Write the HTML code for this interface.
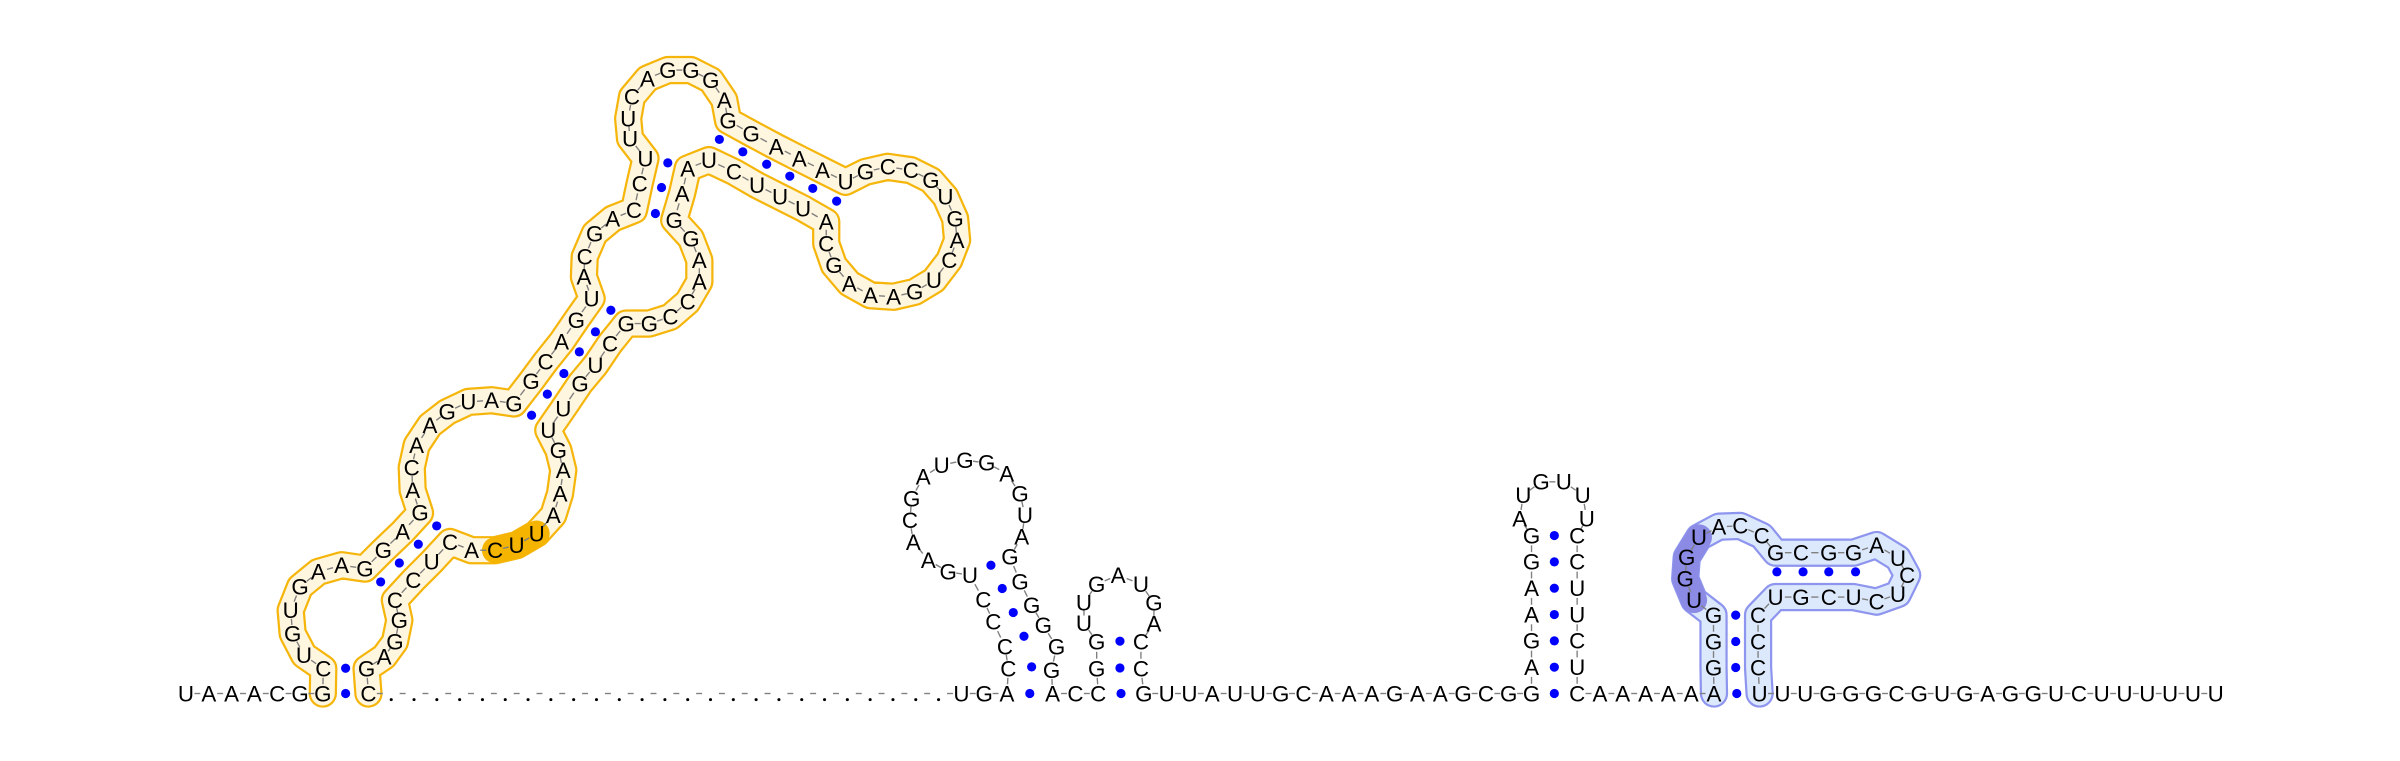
<!DOCTYPE html>
<html><head><meta charset="utf-8">
<style>
html,body{margin:0;padding:0;background:#fff;}
svg{display:block;}
text{font-family:"Liberation Sans","DejaVu Sans",sans-serif;font-size:14.6px;fill:#000;text-anchor:middle;}
</style></head>
<body>
<svg id="rna" xmlns="http://www.w3.org/2000/svg" width="2400" height="761" viewBox="0 0 1568 497">
<g id="tubes"></g>
<g id="links"></g>
<g id="pairs"></g>
<g id="letters"></g>
</svg>
<script>
// ---- sequence data ----
const baselineSeq = "UAAACGG*C" + ".".repeat(25) + "UGA*ACC*G" + "UUAUUGCAAAGAAGCGG" + "*C" + "AAAAA" + "A*U" + "UUGGGCGUGAGGUCUUUUUU";
const orangeSeq = "CUGUGAAGGAGACAAGUAGGCAGUACGACCUUUCAGGGAGGAAAUGCCGUGACUGAAAGCAUUUCUAAGGAACCGGCUGUUGAAAUUCACUCCGGAG";
const stem2Seq = "CCCCUGAACGAUGGAGUAGGGGGG";
const stem2bSeq = "GGUUGAUGACC";
const stem3Seq = "AGAAGGAUGUUUCCUUCU";
const blueSeq = "GGGUGGUACCGCGGAUCUCUCGUCCC";

// ---- layout (display units) ----
const BX0 = 121.5, BDX = 14.9, BY = 453;
const bx = i => BX0 + BDX * i;
const orangeXY = [[211.2,436.7],[198.6,428],[191.2,413.8],[189.9,398.6],[196,383.3],[208,373.5],[223.2,369.2],[238.4,371.4],[250.4,359.4],[263,347.4],[274.4,335],[269.6,320.2],[269,305.4],[272.2,290.8],[280.9,277.7],[292.2,269],[306,262.5],[321.2,261.4],[335.8,263.5],[347,249],[356.4,236.3],[366.9,223.2],[376.5,209.1],[386.5,194.9],[381.5,180.8],[382,167.7],[388.5,152.5],[400.3,142.7],[414.2,137.2],[417.9,119.8],[421.7,103.5],[411.6,90.4],[410.4,77.3],[412.9,63.2],[423,51.2],[436.3,45.7],[451.4,45.7],[464.4,52.3],[473.2,65.3],[475.7,78.8],[490.8,87.1],[507.1,95.8],[522.2,103.5],[537.3,111.1],[552.4,118.7],[565.4,112.2],[580,108.9],[595.1,111.1],[608.2,117.6],[617.7,128.5],[624,142.7],[625.3,156.8],[620.2,169.9],[610.2,183],[597.6,190.6],[583.8,193.8],[568.7,192.8],[554.9,185.1],[544.8,173.2],[539.8,159],[539.8,144.8],[524.7,136.1],[509.6,128.5],[494.6,120.9],[479.5,112.2],[463.2,104.5],[449.3,110],[445.6,126.3],[440.5,143.7],[451.4,155.7],[456.9,169.9],[456.9,184],[449.3,197.1],[438,206.9],[424.2,211.3],[409.1,211.3],[398.6,224.3],[389,238.5],[379,250.5],[368,266.8],[358.2,281],[364.8,294],[368,307.1],[365.9,322.4],[361.5,336.5],[350.6,348.5],[337.5,356.1],[323.4,359.4],[308.1,359.4],[294,354],[282,367],[270,379],[258,392],[260.9,405.1],[258,419.3],[250.9,429],[239.5,436.7]];
const orangeHL = [85,86,87];
const orangeDots = [[225.8,436.5],[248.7,380.1],[260.9,367.7],[273.3,355.5],[285.3,343.5],[347.3,271.2],[357.6,257.4],[368.4,243.9],[378.5,229.8],[389,216.7],[399.1,202.6],[428.2,139.4],[432.2,122.4],[436.3,106.3],[470,91],[485.3,99.1],[500.9,107.2],[516,115],[531,123],[546.6,131.3]];
const stem2XY = [[658.8,436.7],[656.6,422.5],[649,406.2],[642.4,391.6],[633.7,375.7],[619.5,373.5],[606.5,365.9],[596.7,354],[594.5,339.8],[595.6,325.6],[603.2,311.5],[615.2,303.8],[630.4,300.6],[644.6,302.3],[657.7,309.3],[666.4,322.3],[669.6,336.5],[667.5,350.7],[659.8,363.7],[666.4,380],[674,395.3],[681.6,408.4],[690.3,422.5],[687,437.8]];
const stem2Dots = [[674,435.6],[669,415.6],[662,400.1],[654.8,384.4],[647.4,369.2]];
const stem2bXY = [[716.5,436.7],[716.5,419.3],[708.2,406.9],[708.2,393.8],[716.5,381.6],[730.6,375.7],[745.4,381.6],[753.9,393.8],[753.9,407.3],[745.4,419.3],[745.4,436.7]];
const stem2bDots = [[731.7,436.3],[731.7,418.8]];
const s3L = bx(59), s3R = bx(61);
const stem3XY = [[s3L,435.8],[s3L,418.6],[s3L,401.4],[s3L,384.2],[s3L,367],[s3L,349.8],[992.9,338.7],[995.2,323.4],[1006.8,314.7],[1021.7,314.7],[1034,323.4],[1036.7,338.7],[s3R,349.8],[s3R,367],[s3R,384.2],[s3R,401.4],[s3R,418.6],[s3R,435.8]];
const stem3Dots = [435.8,418.6,401.4,384.2,367,349.8].map(y=>[bx(60),y]);
const blueXY = [[1119.5,436],[1119.5,419],[1119.5,401.8],[1106.8,392],[1101,378],[1102,364],[1110,351],[1123,344],[1137,343.5],[1151,350],[1160,361],[1176.6,361],[1194.8,361],[1211,361],[1226,356],[1240,364.6],[1246,375.7],[1240,388],[1226,393],[1211,390],[1194.8,390],[1176.6,390],[1160,390],[1148.6,401.8],[1148.6,419],[1148.6,436]];
const blueHL = [3,4,5,6];
const blueDots = [[1160.9,373.5],[1178,373.5],[1194.8,373.5],[1212.3,373.5],[1134,436],[1134,419],[1134,401.8]];

const NS = "http://www.w3.org/2000/svg";
const gT = document.getElementById('tubes'), gL = document.getElementById('links'), gP = document.getElementById('pairs'), gN = document.getElementById('letters');
function mk(tag, attrs, parent){const e=document.createElementNS(NS,tag);for(const k in attrs)e.setAttribute(k,attrs[k]);parent.appendChild(e);return e;}

const chain = [];
const baseDots = [];
function pushDomain(seq, xy){ for(let k=0;k<seq.length;k++) chain.push({c:seq[k],x:xy[k][0],y:xy[k][1]}); }
const domainStart = {};
for(let i=0;i<baselineSeq.length;i++){
  const c = baselineSeq[i];
  if(c==='*'){ baseDots.push([bx(i),BY]); continue; }
  chain.push({c:c,x:bx(i),y:BY,i:i});
  if(i===6){ domainStart.o=chain.length-1; pushDomain(orangeSeq, orangeXY); }
  if(i===8){ domainStart.oe=chain.length-1; }
  if(i===36) pushDomain(stem2Seq, stem2XY);
  if(i===40) pushDomain(stem2bSeq, stem2bXY);
  if(i===59) pushDomain(stem3Seq, stem3XY);
  if(i===67){ domainStart.b=chain.length-1; pushDomain(blueSeq, blueXY); }
  if(i===69){ domainStart.be=chain.length-1; }
}
function pathOf(a,b){let d='';for(let k=a;k<=b;k++)d+=(k===a?'M':'L')+chain[k].x.toFixed(1)+' '+chain[k].y.toFixed(1);return d;}
function tube(a,b,border,fill,name){
  const d=pathOf(a,b);
  const p1=mk('path',{d:d,fill:'none',stroke:border,'stroke-width':18.5,'stroke-linecap':'round','stroke-linejoin':'round'},gT);
  
  
  const p2=mk('path',{d:d,fill:'none',stroke:fill,'stroke-width':15.6,'stroke-linecap':'round','stroke-linejoin':'round'},gT);
  
  
}
tube(domainStart.o, domainStart.oe, '#f5b50a', '#fff6df', 'orange-domain');
tube(domainStart.b, domainStart.be, '#8e95ee', '#dce9fc', 'blue-domain');
function hl(base, idxs, color, name){
  const a=base+1+idxs[0], b=base+1+idxs[idxs.length-1];
  const p=mk('path',{d:pathOf(a,b),fill:'none',stroke:color,'stroke-width':17,'stroke-linecap':'round','stroke-linejoin':'round'},gT);
  
  
}
hl(domainStart.o, orangeHL, '#f5b400', 'orange-motif-highlight');
hl(domainStart.b, blueHL, '#8b8be6', 'blue-motif-highlight');

for(let k=0;k<chain.length-1;k++){
  const a=chain[k], b=chain[k+1];
  if(a.i!==undefined && b.i!==undefined && b.i-a.i>1) continue;
  const x1=a.x+(b.x-a.x)*0.37, y1=a.y+(b.y-a.y)*0.37, x2=a.x+(b.x-a.x)*0.63, y2=a.y+(b.y-a.y)*0.63;
  const l=mk('line',{x1:x1,y1:y1,x2:x2,y2:y2,stroke:'#808080','stroke-width':0.9},gL);
  
  
}
const allDots = baseDots.concat(orangeDots, stem2Dots, stem2bDots, stem3Dots, blueDots);
allDots.forEach(p=>{
  const c=mk('circle',{cx:p[0],cy:p[1],r:3,fill:'#0000ff'},gP);
  
  
});
chain.forEach(n=>{
  if(n.c==='.'){
    const c=mk('circle',{cx:n.x,cy:n.y+4,r:1,fill:'#000'},gN);
    
    
    return;
  }
  const t=mk('text',{x:n.x,y:n.y+5.1},gN);
  t.textContent=n.c;
  
  
});
</script>
</body></html>
